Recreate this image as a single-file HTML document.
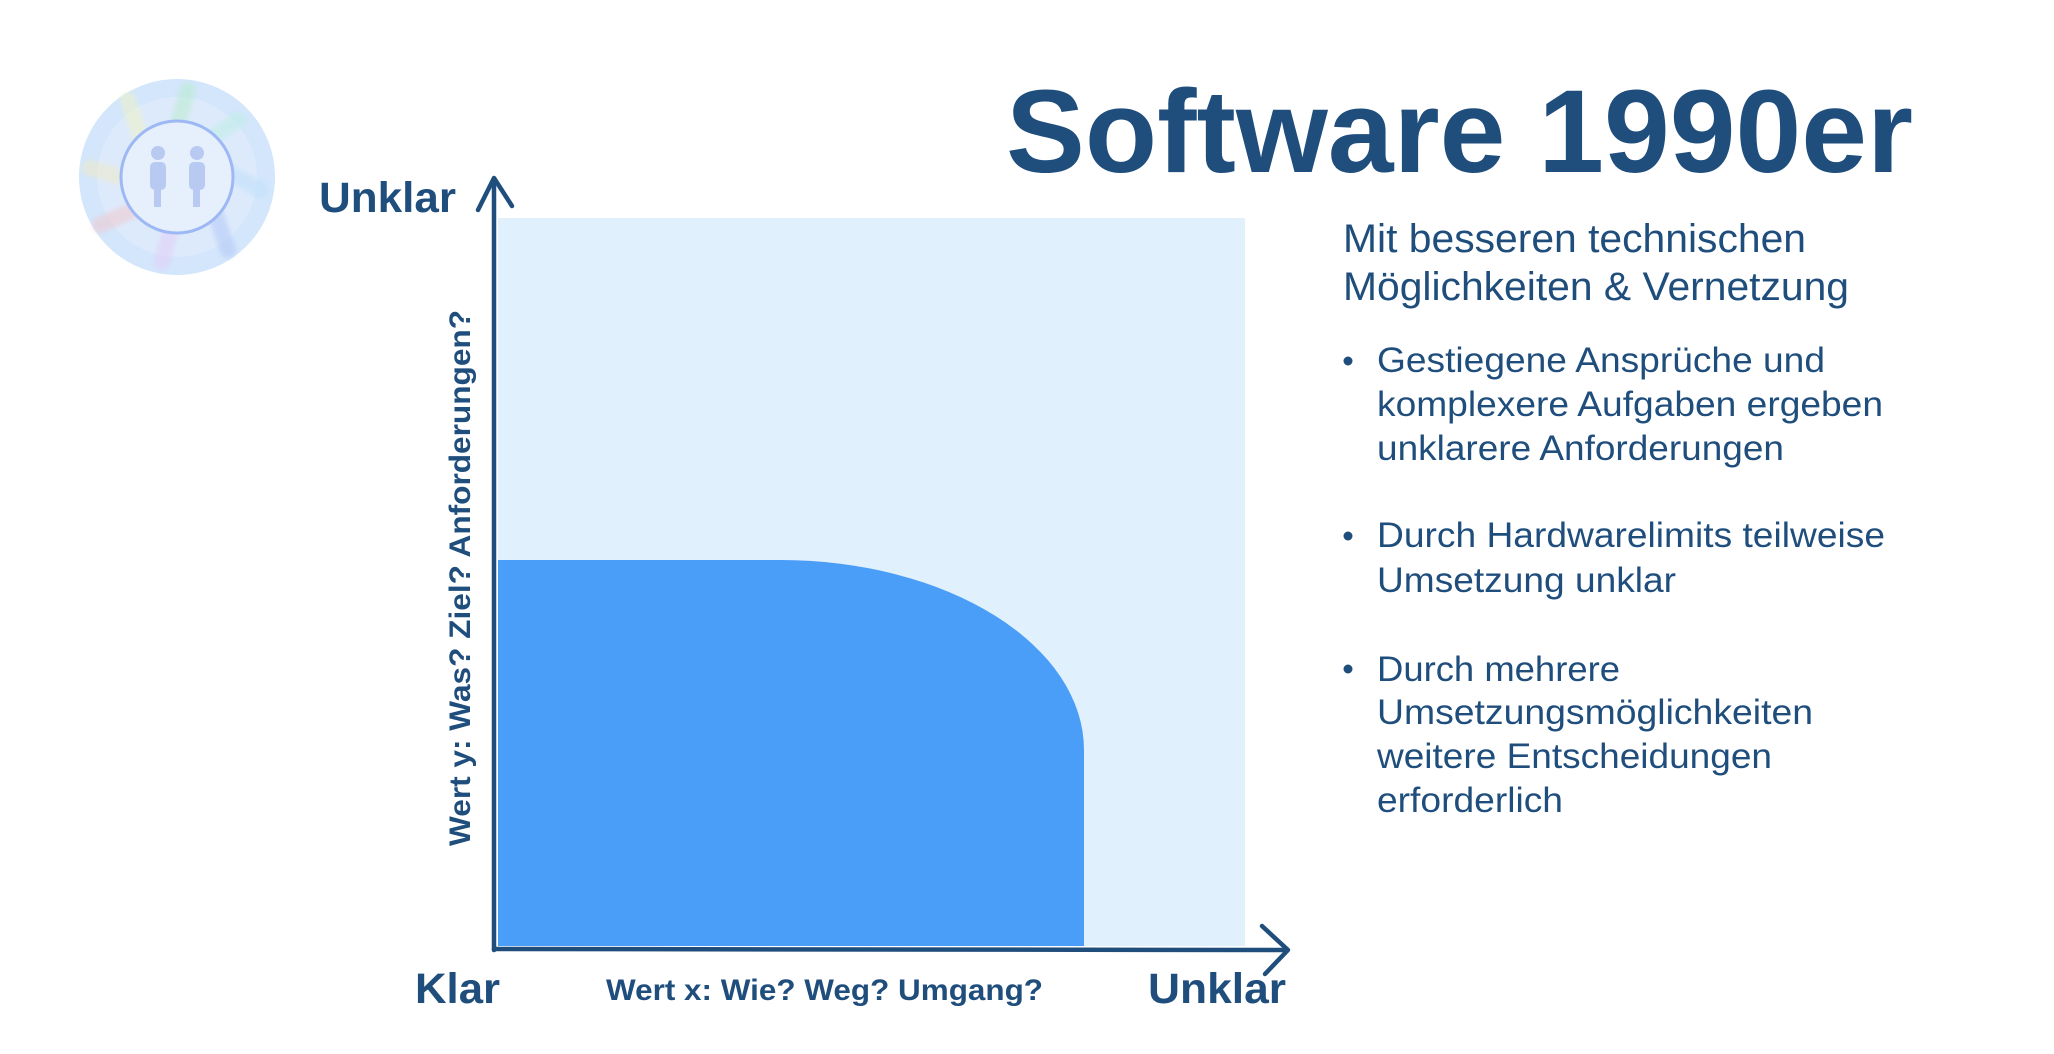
<!DOCTYPE html>
<html><head><meta charset="utf-8"><style>
html,body{margin:0;padding:0;background:#fff;}
svg{display:block;}
text{font-family:"Liberation Sans",sans-serif;fill:#1f4e7d;}
</style></head><body>
<svg width="2054" height="1054" viewBox="0 0 2054 1054" xmlns="http://www.w3.org/2000/svg">
<defs>
<filter id="bl" x="-20%" y="-20%" width="140%" height="140%"><feGaussianBlur stdDeviation="2"/></filter>
</defs>
<!-- logo -->
<circle cx="177" cy="177" r="98" fill="#d3e6fb"/>
<circle cx="177" cy="177" r="80" fill="#ddeafb"/>
<g stroke-linecap="round" stroke-width="16" opacity="0.55" filter="url(#bl)">
<line x1="188" y1="90" x2="173" y2="140" stroke="#b9ecd0"/>
<line x1="128" y1="100" x2="145" y2="150" stroke="#eef2c8"/>
<line x1="238" y1="120" x2="208" y2="140" stroke="#bdeee6"/>
<line x1="90" y1="168" x2="130" y2="180" stroke="#efe9c7"/>
<line x1="225" y1="170" x2="260" y2="190" stroke="#bfe0fb"/>
<line x1="100" y1="225" x2="145" y2="205" stroke="#f0c8cf"/>
<line x1="175" y1="215" x2="162" y2="262" stroke="#e2cdf8"/>
<line x1="212" y1="204" x2="228" y2="250" stroke="#b3c8f8"/>
</g>
<circle cx="177" cy="177" r="56" fill="#e6f0fc" stroke="#9db8f5" stroke-width="3"/>
<g fill="#b8c9f2">
<circle cx="158" cy="153" r="7"/><circle cx="197" cy="153" r="7"/>
<rect x="150" y="162" width="16" height="28" rx="5"/><rect x="189" y="162" width="16" height="28" rx="5"/>
<rect x="154" y="185" width="7" height="22"/><rect x="193" y="185" width="7" height="22"/>
</g>
<!-- title -->
<text x="1006" y="172" font-size="118" font-weight="bold" textLength="907" lengthAdjust="spacingAndGlyphs">Software 1990er</text>
<!-- chart -->
<rect x="498" y="218" width="747" height="728" fill="#e0f0fd"/>
<path d="M498,560 H780 A304,190 0 0 1 1084,750 V946 H498 Z" fill="#4a9ef7"/>
<g stroke="#1f4e7d" stroke-width="4.5" fill="none" stroke-linecap="round" stroke-linejoin="round">
<path d="M494,950 L494,180"/>
<path d="M478,210 L494,178 L512,206"/>
<path d="M494,949 L1286,950"/>
<path d="M1262,926 L1288,950 L1265,974"/>
</g>
<text x="319" y="212" font-size="43" font-weight="bold" textLength="137" lengthAdjust="spacingAndGlyphs">Unklar</text>
<text x="415" y="1003" font-size="43" font-weight="bold" textLength="85" lengthAdjust="spacingAndGlyphs">Klar</text>
<text x="1148" y="1003" font-size="43" font-weight="bold" textLength="138" lengthAdjust="spacingAndGlyphs">Unklar</text>
<text x="606" y="1000" font-size="30" font-weight="bold" textLength="437" lengthAdjust="spacingAndGlyphs">Wert x: Wie? Weg? Umgang?</text>
<text transform="translate(470,846) rotate(-90)" x="0" y="0" font-size="30" font-weight="bold" textLength="536" lengthAdjust="spacingAndGlyphs">Wert y: Was? Ziel? Anforderungen?</text>
<!-- right text -->
<g font-size="35">
<text x="1343" y="252" font-size="40" textLength="463" lengthAdjust="spacingAndGlyphs">Mit besseren technischen</text>
<text x="1343" y="300" font-size="40" textLength="506" lengthAdjust="spacingAndGlyphs">Möglichkeiten &amp; Vernetzung</text>
<circle cx="1348" cy="361" r="4.5" fill="#1f4e7d"/>
<text x="1377" y="372" textLength="448" lengthAdjust="spacingAndGlyphs">Gestiegene Ansprüche und</text>
<text x="1377" y="416" textLength="506" lengthAdjust="spacingAndGlyphs">komplexere Aufgaben ergeben</text>
<text x="1377" y="460" textLength="407" lengthAdjust="spacingAndGlyphs">unklarere Anforderungen</text>
<circle cx="1348" cy="536" r="4.5" fill="#1f4e7d"/>
<text x="1377" y="547" textLength="508" lengthAdjust="spacingAndGlyphs">Durch Hardwarelimits teilweise</text>
<text x="1377" y="592" textLength="299" lengthAdjust="spacingAndGlyphs">Umsetzung unklar</text>
<circle cx="1348" cy="669" r="4.5" fill="#1f4e7d"/>
<text x="1377" y="681" textLength="243" lengthAdjust="spacingAndGlyphs">Durch mehrere</text>
<text x="1377" y="724" textLength="436" lengthAdjust="spacingAndGlyphs">Umsetzungsmöglichkeiten</text>
<text x="1377" y="768" textLength="395" lengthAdjust="spacingAndGlyphs">weitere Entscheidungen</text>
<text x="1377" y="812" textLength="186" lengthAdjust="spacingAndGlyphs">erforderlich</text>
</g>
</svg>
</body></html>
